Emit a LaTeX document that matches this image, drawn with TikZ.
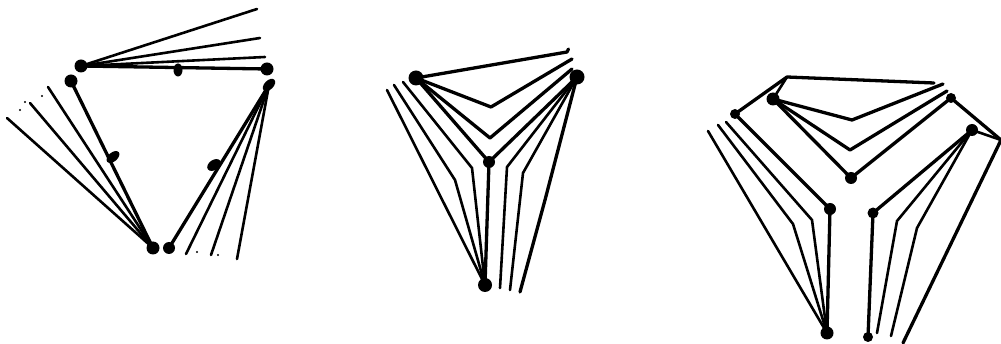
\documentclass[tikz,border=0pt]{standalone}
\usetikzlibrary{shapes.geometric}
\begin{document}
\begin{tikzpicture}[x=1pt,y=-1pt,
  dot/.style={circle,fill=black,draw=none,inner sep=0pt,minimum size=#1},
  dot/.default=13pt,
  oval/.style={ellipse,fill=black,draw=none,inner sep=0pt},
  boldline/.style={draw=black,line width=3.3pt,line join=round,line cap=round},
  thinline/.style={draw=black,line width=2.6pt,line join=round,line cap=round},
  spot/.style={circle,fill=black,draw=none,inner sep=0pt,minimum size=2.2pt}]
\useasboundingbox (0,0) rectangle (1001,344);
% --- panel 1
\node[dot] (a1) at (81,66) {};
\node[dot=13pt] (b1) at (267,69) {};
\node[oval,minimum width=9pt,minimum height=13pt] (m1) at (178,70) {};
\node[dot=13pt] (c1) at (71,81) {};
\node[dot=13pt] (d1) at (153,248) {};
\node[oval,minimum width=15pt,minimum height=9pt,rotate=40] (n1) at (113,157) {};
\node[dot=12pt] (e1) at (169,248) {};
\node[oval,minimum width=15pt,minimum height=9pt,rotate=45] (f1) at (269,85) {};
\node[oval,minimum width=15pt,minimum height=10pt,rotate=35] (g1) at (214,165) {};
\foreach \n/\p in {p1/{257,9},p2/{260,38},p3/{265,57},q1/{48,87},q2/{30,103},q3/{7,118},r1/{186,254},r2/{211,255},r3/{237,259}}{\coordinate (\n) at (\p);}
\draw[boldline] (a1.center) -- (b1.center);
\draw[boldline] (c1.center) -- (d1.center);
\draw[boldline] (e1.center) -- (f1.center);
\draw[thinline] (a1.center) -- (p1);
\draw[thinline] (a1.center) -- (p2);
\draw[thinline] (a1.center) -- (p3);
\draw[thinline] (d1.center) -- (q1);
\draw[thinline] (d1.center) -- (q2);
\draw[thinline] (d1.center) -- (q3);
\draw[thinline] (f1.center) -- (r1);
\draw[thinline] (f1.center) -- (r2);
\draw[thinline] (f1.center) -- (r3);
\foreach \n/\p in {s1/{42,96},s2/{25,102},s3/{20,110},s4/{197,252},s5/{218,255}}{\node[spot] (\n) at (\p) {};}
% --- panel 2
\node[dot=15pt] (a2) at (416,78) {};
\node[dot=15pt] (b2) at (577,77) {};
\node[dot=14pt] (c2) at (485,285) {};
\node[dot=12pt] (m2) at (489,162) {};
\foreach \n/\p in {t1/{567,52},t2/{491,107},t3/{572,59},t4/{490,138},t5/{572,69},
  u1/{403,82},u2/{472,168},u3/{394,85},u4/{455,180},u5/{387,90},
  v1/{507,167},v2/{500,288},v3/{523,173},v4/{510,290},v5/{545,200},v6/{520,292}}{\coordinate (\n) at (\p);}
\draw[boldline] (a2.center) -- (t1) -- ++(1.5,-3);
\draw[boldline] (a2.center) -- (t2) -- (t3);
\draw[boldline] (a2.center) -- (t4) -- (t5);
\draw[boldline] (a2.center) -- (m2.center) -- (b2.center);
\draw[boldline] (m2.center) -- (c2.center);
\draw[thinline] (u1) -- (u2) -- (c2.center);
\draw[thinline] (u3) -- (u4) -- (c2.center);
\draw[thinline] (u5) -- (c2.center);
\draw[thinline] (b2.center) -- (v1) -- (v2);
\draw[thinline] (b2.center) -- (v3) -- (v4);
\draw[boldline] (b2.center) -- (v5) -- (v6);
% --- panel 3
\node[dot=13pt] (a3) at (773,99) {};
\node[dot=10pt] (l3) at (735,114) {};
\node[dot=12pt] (m3) at (851,178) {};
\node[dot=10pt] (h3) at (951,98) {};
\node[dot=12pt] (k3) at (972,130) {};
\node[dot=12pt] (i3) at (830,209) {};
\node[dot=11pt] (j3) at (873,213) {};
\node[dot=13pt] (c3) at (827,333) {};
\node[dot=10pt] (d3) at (868,337) {};
\foreach \n/\p in {w0/{787,77},w1/{934,83},w2/{852,120},w3/{943,84},w4/{850,150},w5/{947,91},
  w6/{1001,140},w7/{903,343},
  x1/{726,122},x2/{812,220},x3/{718,125},x4/{793,224},x5/{708,131},
  y1/{897,221},y2/{877,333},y3/{917,228},y4/{891,336}}{\coordinate (\n) at (\p);}
\draw[boldline] (l3.center) -- (w0) -- (w1);
\draw[thinline] (a3.center) -- (w0);
\draw[boldline] (a3.center) -- (w2) -- (w3);
\draw[boldline] (a3.center) -- (w4) -- (w5);
\draw[boldline] (a3.center) -- (m3.center) -- (h3.center);
\draw[boldline] (h3.center) -- (w6) -- (w7);
\draw[thinline] (k3.center) -- (w6);
\draw[boldline] (l3.center) -- (i3.center) -- (c3.center);
\draw[thinline] (x1) -- (x2) -- (c3.center);
\draw[thinline] (x3) -- (x4) -- (c3.center);
\draw[thinline] (x5) -- (c3.center);
\draw[boldline] (k3.center) -- (j3.center) -- (d3.center);
\draw[thinline] (k3.center) -- (y1) -- (y2);
\draw[thinline] (k3.center) -- (y3) -- (y4);
\end{tikzpicture}
\end{document}
